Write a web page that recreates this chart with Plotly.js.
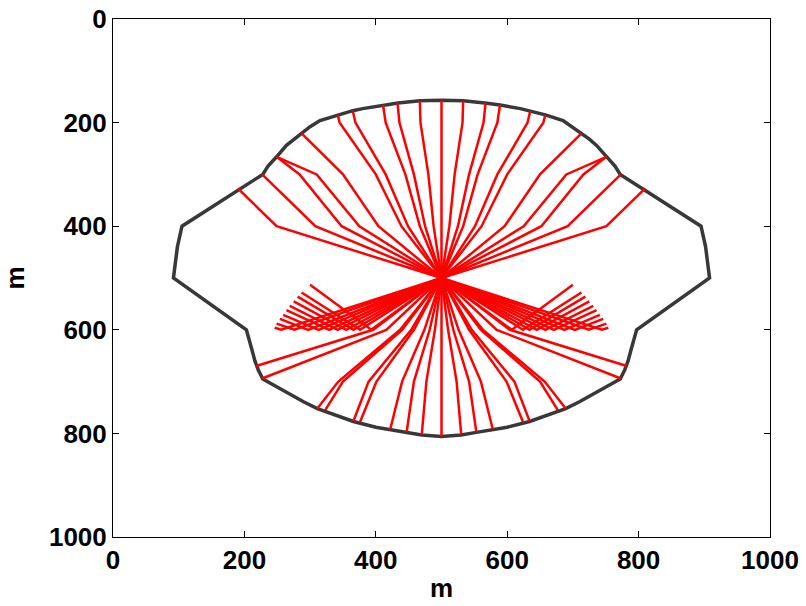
<!DOCTYPE html>
<html>
<head>
<meta charset="utf-8">
<script src="https://cdn.plot.ly/plotly-3.0.1.min.js"></script>
<style>html,body{margin:0;padding:0;background:#fff;}#chart{width:806px;height:606px;}</style>
</head>
<body>
<div id="chart"></div>
<script>
// Source position (m)
const sourceX = 500;
const sourceY = 500;

// Model boundary (closed outline)
const boundaryX = [500,467,434,411,380,365,342,315,300,287,275,264,249,236,228,105,98,92,203,206,209,212,216,221,228,260,290,311,340,366,400,422,447,470,500,
  530,553,578,600,634,660,689,710,740,772,779,784,788,791,794,797,908,902,895,772,764,751,736,725,713,700,685,658,635,620,589,566,533,500];
const boundaryY = [157,158,162,166,173,177,185,196,208,221,232,244,266,284,300,400,440,500,600,612,626,641,660,677,695,718,739,752,766,777,788,793,798,803,806,
  803,798,793,788,777,766,752,739,718,695,677,660,641,626,612,600,500,440,400,300,284,266,244,232,221,208,196,185,177,173,166,162,158,157];

// Up-going rays: crossing x at interfaces y=400, 300, 200, then end point on boundary
const upX400 = [249,308,375,348,404,439,449,467,475,488, null, 512,525,533,551,561,596,652,625,692,751];
const upX300 = [null,null,310,284,350,400,415,445,458,480, null, 520,542,555,585,600,650,716,690,null,null];
const upX200 = [null,null,null,null,null,345,369,415,436,468, null, 532,564,585,631,655,null,null,null,null,null];
const upEndX = [190,227,249,249,287,342,365,411,433,467, 500, 533,567,589,635,658,713,751,751,773,810];
const upEndY = [327,300,266,266,221,185,178,166,162,158, 157, 158,162,166,178,185,221,266,266,300,327];

// Down-going rays: crossing x at interfaces y=600, 700, then end point on boundary
const downX600 = [396,416,437,440,454,458,474,482,490, null, 510,518,526,542,546,560,563,584,604];
const downX700 = [null,null,343,350,389,401,440,458,477, null, 523,542,560,599,611,650,657,null,null];
const downEndX = [218,227,311,323,366,376,422,447,470, 500, 530,553,578,624,634,677,689,773,782];
const downEndY = [670,694,752,755,776,778,792,797,802, 806, 802,797,792,778,776,755,752,694,670];

// Reflected rays: reflection point on y=600, then end point
const fanX600 = [393,376,366,355,342,329,313,297,276,256, 607,624,634,645,658,671,687,703,724,744];
const fanEndX = [300,287,281,275,269,264,259,254,249,246, 700,713,719,725,731,736,741,746,751,754];
const fanEndY = [513,528,536,545,554,562,571,579,588,596, 513,528,536,545,554,562,571,579,588,596];

// Tick values
const tickVals = [0,200,400,600,800,1000];

const rx = [], ry = [];
function addPath(px, py){ for (let i=0;i<px.length;i++){ rx.push(px[i]); ry.push(py[i]); } rx.push(null); ry.push(null); }

for (let i=0;i<upEndX.length;i++){
  const px=[sourceX], py=[sourceY];
  if (upX400[i]!==null){ px.push(upX400[i]); py.push(400); }
  if (upX300[i]!==null){ px.push(upX300[i]); py.push(300); }
  if (upX200[i]!==null){ px.push(upX200[i]); py.push(200); }
  px.push(upEndX[i]); py.push(upEndY[i]);
  addPath(px,py);
}
for (let i=0;i<downEndX.length;i++){
  const px=[sourceX], py=[sourceY];
  if (downX600[i]!==null){ px.push(downX600[i]); py.push(600); }
  if (downX700[i]!==null){ px.push(downX700[i]); py.push(700); }
  px.push(downEndX[i]); py.push(downEndY[i]);
  addPath(px,py);
}
for (let i=0;i<fanEndX.length;i++){
  addPath([sourceX, fanX600[i], fanEndX[i]], [sourceY, 600, fanEndY[i]]);
}

const traces = [
  {type:'scatter', mode:'lines', x:boundaryX, y:boundaryY, line:{color:'#383838', width:3.5}, hoverinfo:'skip', showlegend:false},
  {type:'scatter', mode:'lines', x:rx, y:ry, connectgaps:false, line:{color:'#ff0000', width:2.5}, hoverinfo:'skip', showlegend:false}
];

const fontFam = 'Liberation Sans, Arial, Helvetica, sans-serif';
const axisCommon = {
  tickvals: tickVals,
  ticktext: tickVals.map(String),
  ticks: 'inside', ticklen: 6, tickwidth: 1, tickcolor: '#000',
  showline: true, linecolor: '#000', linewidth: 1, mirror: 'allticks',
  showgrid: false, zeroline: false,
  tickfont: {family: fontFam, size: 26, color: '#000', weight: 'bold'}
};
const layout = {
  width: 806, height: 606,
  margin: {l:113, r:36, t:19, b:69, pad:0},
  paper_bgcolor: '#fff', plot_bgcolor: '#fff',
  showlegend: false,
  xaxis: Object.assign({}, axisCommon, {range:[0,1000], title:{text:'m', font:{family:fontFam, size:26, color:'#000', weight:'bold'}, standoff:4}}),
  yaxis: Object.assign({}, axisCommon, {range:[1000,0], title:{text:'m', font:{family:fontFam, size:26, color:'#000', weight:'bold'}, standoff:16}})
};
Plotly.newPlot('chart', traces, layout, {displayModeBar:false, staticPlot:true});
</script>
</body>
</html>
